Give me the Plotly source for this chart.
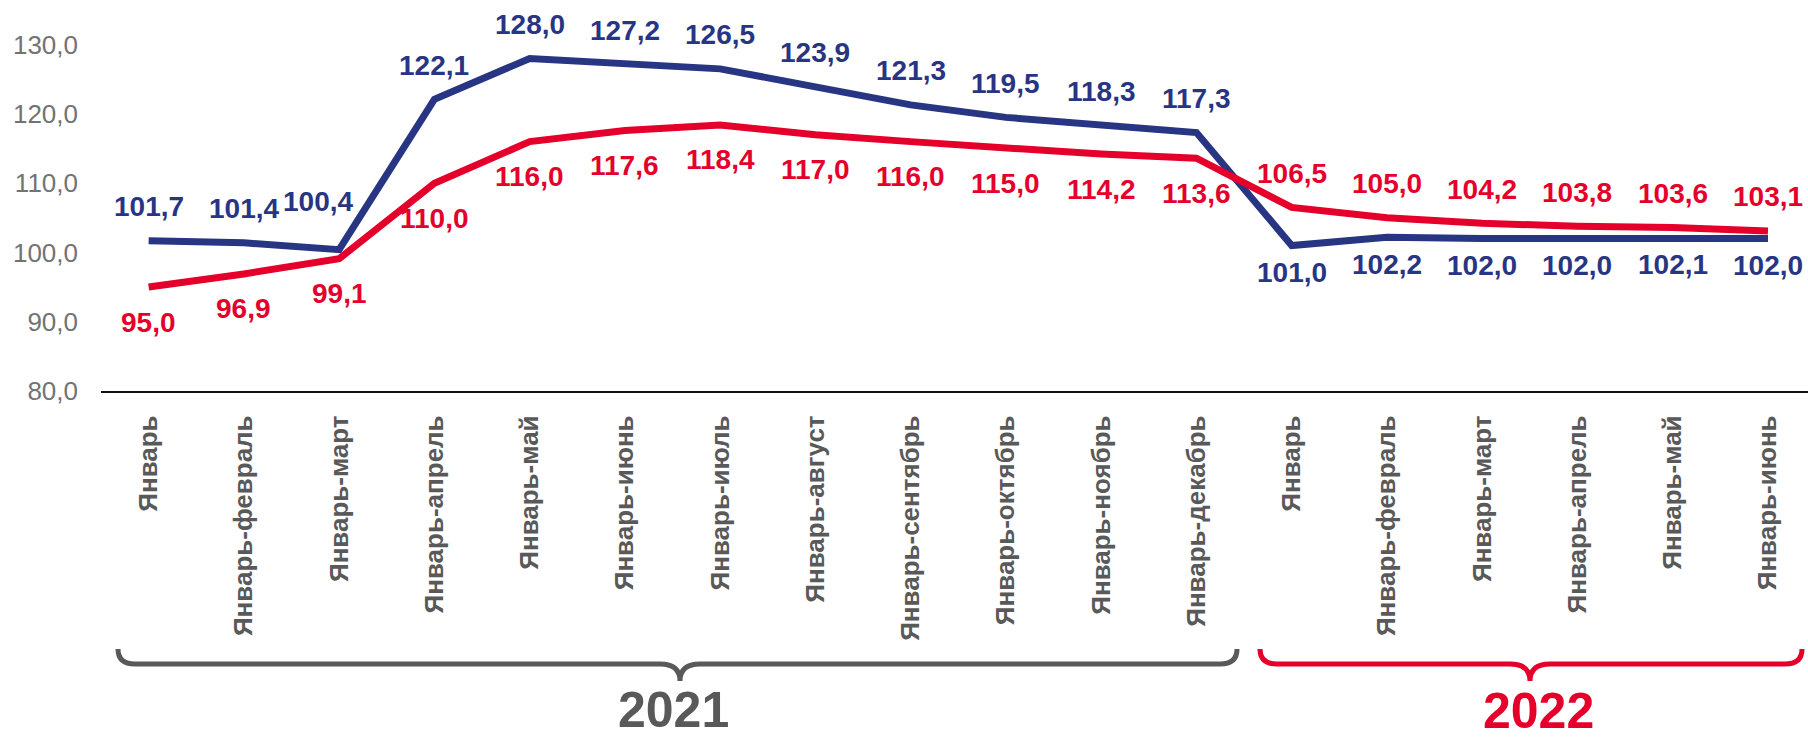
import plotly.graph_objects as go

categories = ["Январь", "Январь-февраль", "Январь-март", "Январь-апрель", "Январь-май",
              "Январь-июнь", "Январь-июль", "Январь-август", "Январь-сентябрь",
              "Январь-октябрь", "Январь-ноябрь", "Январь-декабрь",
              "Январь", "Январь-февраль", "Январь-март", "Январь-апрель", "Январь-май",
              "Январь-июнь"]
blue_values = [101.7, 101.4, 100.4, 122.1, 128.0, 127.2, 126.5, 123.9, 121.3, 119.5,
               118.3, 117.3, 101.0, 102.2, 102.0, 102.0, 102.1, 102.0]
red_values = [95.0, 96.9, 99.1, 110.0, 116.0, 117.6, 118.4, 117.0, 116.0, 115.0,
              114.2, 113.6, 106.5, 105.0, 104.2, 103.8, 103.6, 103.1]
years = ["2021", "2022"]
n_2021 = 12

BLUE = "#283583"
RED = "#E4002B"
GRAY = "#595959"
FONT = "Liberation Sans"

W, H = 1808, 743
ML, MR, MT, MB = 101, 0, 10, 352
PW = W - ML - MR
PH = H - MT - MB

xs = list(range(len(categories)))

fig = go.Figure()
fig.add_trace(go.Scatter(x=xs, y=blue_values, mode="lines",
                         line=dict(color=BLUE, width=7), showlegend=False, hoverinfo="skip"))
fig.add_trace(go.Scatter(x=xs, y=red_values, mode="lines",
                         line=dict(color=RED, width=7), showlegend=False, hoverinfo="skip"))


def fmt(v):
    return f"{v:.1f}".replace(".", ",")


annotations = []
for i, v in enumerate(blue_values):
    if i < n_2021:
        ys, xsft = 34, 0
        if i == 2:
            ys, xsft = 48, -21
    else:
        ys, xsft = -27, 0
    annotations.append(dict(x=i, y=v, xref="x", yref="y", text=fmt(v), showarrow=False,
                            yshift=ys, xshift=xsft,
                            font=dict(family=FONT, size=28, color=BLUE, weight="bold")))
for i, v in enumerate(red_values):
    ys = -35 if i < n_2021 else 34
    annotations.append(dict(x=i, y=v, xref="x", yref="y", text=fmt(v), showarrow=False,
                            yshift=ys,
                            font=dict(family=FONT, size=28, color=RED, weight="bold")))


def px2paper(px, py):
    return (px - ML) / PW, (H - MB - py) / PH


def brace_path(x0, x1, xc, ytop, yh, ytip, r=17):
    pts = [
        ("M", [(x0, ytop)]),
        ("Q", [(x0, yh), (x0 + r, yh)]),
        ("L", [(xc - r - 3, yh)]),
        ("Q", [(xc, yh), (xc, ytip)]),
        ("Q", [(xc, yh), (xc + r + 3, yh)]),
        ("L", [(x1 - r, yh)]),
        ("Q", [(x1, yh), (x1, ytop)]),
    ]
    s = ""
    for cmd, plist in pts:
        s += cmd + " " + " ".join("%.5f,%.5f" % px2paper(*p) for p in plist) + " "
    return s.strip()


shapes = [
    dict(type="path", xref="paper", yref="paper",
         path=brace_path(118, 1237, 680, 649, 664, 681),
         line=dict(color=GRAY, width=5)),
    dict(type="path", xref="paper", yref="paper",
         path=brace_path(1260, 1802, 1530, 649, 664, 681),
         line=dict(color=RED, width=5)),
]

yx, yy = px2paper(673, 710)
annotations.append(dict(x=yx, y=yy, xref="paper", yref="paper", text=years[0], showarrow=False,
                        xanchor="center", yanchor="middle",
                        font=dict(family=FONT, size=50, color=GRAY, weight="bold")))
yx, yy = px2paper(1538, 711)
annotations.append(dict(x=yx, y=yy, xref="paper", yref="paper", text=years[1], showarrow=False,
                        xanchor="center", yanchor="middle",
                        font=dict(family=FONT, size=50, color=RED, weight="bold")))

fig.update_layout(
    width=W, height=H,
    margin=dict(l=ML, r=MR, t=MT, b=MB, pad=0),
    paper_bgcolor="white", plot_bgcolor="white",
    separators=", ",
    shapes=shapes,
    annotations=annotations,
    xaxis=dict(
        tickmode="array", tickvals=xs, ticktext=categories,
        range=[-0.5, 17.42], tickangle=-90,
        showgrid=False, zeroline=False,
        showline=True, linecolor="#111111", linewidth=2,
        ticks="", ticklabelstandoff=12,
        tickfont=dict(family=FONT, size=26, color=GRAY, weight="bold"),
    ),
    yaxis=dict(
        range=[80, 135], tickvals=[80, 90, 100, 110, 120, 130], tickformat=".1f",
        showgrid=False, zeroline=False, showline=False, ticks="",
        ticklabelstandoff=22,
        tickfont=dict(family=FONT, size=26, color="#737373"),
    ),
)

fig.write_html("out.html", config={"displayModeBar": False},
               post_script="document.body.style.margin='0';document.body.style.overflow='hidden';")
